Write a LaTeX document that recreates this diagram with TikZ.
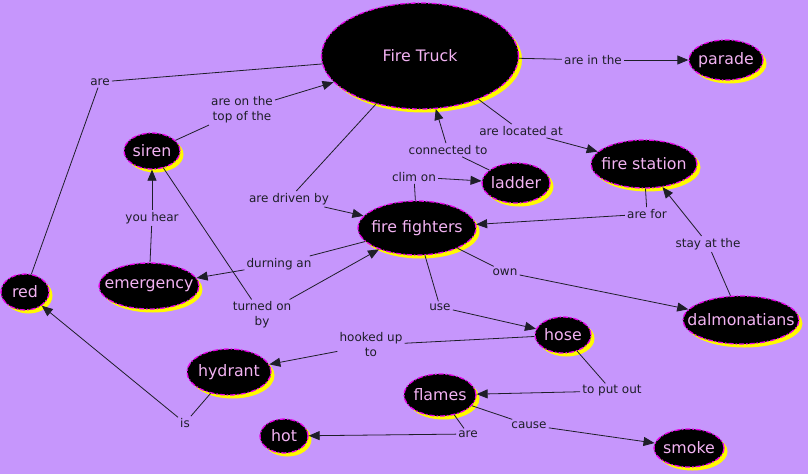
\documentclass[tikz,border=0pt]{standalone}
\usepackage{fontspec}
\setmainfont{DejaVu Sans}
\usepackage{xcolor}
\definecolor{ftlilac}{RGB}{198,150,252}
\definecolor{ftmagenta}{RGB}{232,0,232}
\definecolor{ftpink}{RGB}{242,178,242}
\definecolor{ftyellow}{RGB}{255,250,0}
\definecolor{ftink}{RGB}{30,30,40}
\usepackage{tikz}
\usetikzlibrary{arrows.meta, shapes.geometric, shadows}

\begin{document}
\begin{tikzpicture}[x=1pt, y=-1pt,
  concept/.style={ellipse, fill=black, draw=ftmagenta, line width=1.3pt,
    dash pattern=on 5pt off 2pt on 1.5pt off 2pt,
    inner xsep=-20pt, inner ysep=0pt, text=ftpink,
    font=\fontsize{15.8}{19}\selectfont,
    drop shadow={fill=ftyellow, opacity=1, shadow xshift=3.5pt, shadow yshift=-3.5pt}},
  linkword/.style={font=\fontsize{12}{15}\selectfont, text=ftink, inner sep=2pt, align=center},
  link/.style={draw=ftink, line width=0.8pt},
  linkto/.style={link, -{Triangle[length=11pt, width=9pt]}}]

  % background
  \fill[ftlilac] (0,0) rectangle (808,474);

  % --- concepts ---
  \node[concept, minimum width=197pt, minimum height=106pt] (truck) at (420,56) {Fire Truck};
  \node[concept, minimum width=74pt, minimum height=40pt] (parade) at (726,60) {parade};
  \node[concept, minimum width=56pt, minimum height=36pt] (siren) at (152,151) {siren};
  \node[concept, minimum width=106pt, minimum height=48pt] (station) at (644,164) {fire station};
  \node[concept, minimum width=68pt, minimum height=40pt] (ladder) at (516,183) {ladder};
  \node[concept, minimum width=118pt, minimum height=54pt] (fighters) at (417,228) {fire fighters};
  \node[concept, minimum width=100pt, minimum height=46pt] (emergency) at (149,286) {emergency};
  \node[concept, minimum width=48pt, minimum height=36pt] (red) at (25,292) {red};
  \node[concept, minimum width=116pt, minimum height=48pt] (dalmatians) at (741,320) {dalmonatians};
  \node[concept, minimum width=56pt, minimum height=36pt] (hose) at (563,335) {hose};
  \node[concept, minimum width=84pt, minimum height=46pt] (hydrant) at (229,372) {hydrant};
  \node[concept, minimum width=72pt, minimum height=42pt] (flames) at (440,395) {flames};
  \node[concept, minimum width=48pt, minimum height=34pt] (hot) at (284,436) {hot};
  \node[concept, minimum width=70pt, minimum height=38pt] (smoke) at (689,448) {smoke};

  % --- linking words ---
  \node[linkword] (inthe) at (593,60) {are in the};
  \node[linkword] (locatedat) at (521,131) {are located at};
  \node[linkword] (connected) at (448,150) {connected to};
  \node[linkword] (climon) at (414,177) {clim on};
  \node[linkword] (drivenby) at (289,199) {are driven by};
  \node[linkword] (ontop) at (242,110) {are on the\\top of the};
  \node[linkword] (arered) at (100,82) {are};
  \node[linkword] (youhear) at (152,218) {you hear};
  \node[linkword] (durning) at (279,264) {durning an};
  \node[linkword] (turnedon) at (262,315) {turned on\\by};
  \node[linkword] (arefor) at (647,214) {are for};
  \node[linkword] (stayat) at (708,244) {stay at the};
  \node[linkword] (own) at (505,272) {own};
  \node[linkword] (use) at (440,307) {use};
  \node[linkword] (hooked) at (371,345) {hooked up\\to};
  \node[linkword] (putout) at (612,391) {to put out};
  \node[linkword] (is) at (185,423) {is};
  \node[linkword] (arehot) at (468,434) {are};
  \node[linkword] (cause) at (529,425) {cause};

  % --- connectors ---
  \draw[link] (truck) -- (inthe);        \draw[linkto] (inthe) -- (parade);
  \draw[link] (truck) -- (locatedat);    \draw[linkto] (locatedat) -- (station);
  \draw[link] (ladder) -- (connected);   \draw[linkto] (connected) -- (truck);
  \draw[link] (fighters) -- (climon);    \draw[linkto] (climon) -- (ladder);
  \draw[link] (truck) -- (drivenby);     \draw[linkto] (drivenby) -- (fighters);
  \draw[link] (siren) -- (ontop);        \draw[linkto] (ontop) -- (truck);
  \draw[link] (truck) -- (arered);       \draw[link] (arered) -- (red);
  \draw[link] (emergency) -- (youhear);  \draw[linkto] (youhear) -- (siren);
  \draw[link] (fighters) -- (durning);   \draw[linkto] (durning) -- (emergency);
  \draw[link] (siren) -- (turnedon);     \draw[linkto] (turnedon) -- (fighters);
  \draw[link] (station) -- (arefor);     \draw[linkto] (arefor) -- (fighters);
  \draw[link] (dalmatians) -- (stayat);  \draw[linkto] (stayat) -- (station);
  \draw[link] (fighters) -- (own);       \draw[linkto] (own) -- (dalmatians);
  \draw[link] (fighters) -- (use);       \draw[linkto] (use) -- (hose);
  \draw[link] (hose) -- (hooked);        \draw[linkto] (hooked) -- (hydrant);
  \draw[link] (hose) -- (putout);        \draw[linkto] (putout) -- (flames);
  \draw[link] (hydrant) -- (is);         \draw[linkto] (is) -- (red);
  \draw[link] (flames) -- (arehot);      \draw[linkto] (arehot) -- (hot);
  \draw[link] (flames) -- (cause);       \draw[linkto] (cause) -- (smoke);
\end{tikzpicture}
\end{document}
